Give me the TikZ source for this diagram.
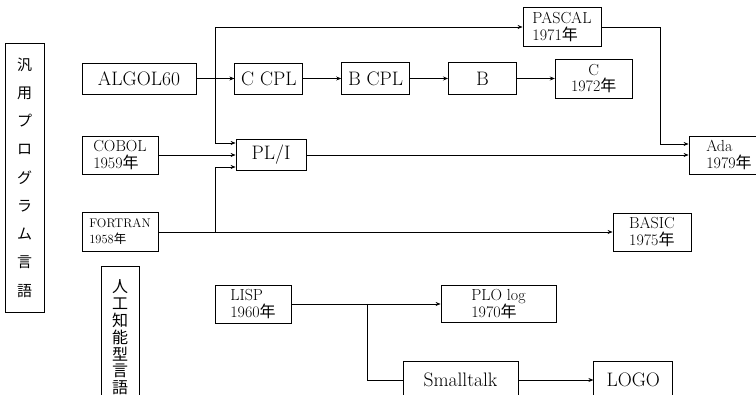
\documentclass[tikz,border=0pt]{standalone}
\usepackage{fontspec}
\newfontfamily\jp{Noto Sans CJK JP}
\usetikzlibrary{arrows.meta, positioning}
\newcommand{\nen}{{\jp 年}}

\begin{document}
\begin{tikzpicture}[
    x=1pt, y=-1pt,
    node distance=38pt,
    lang/.style={draw, line width=0.8pt, inner sep=0pt, align=left, font=\fontsize{16}{16.5}\selectfont},
    biglang/.style={lang, align=center, font=\fontsize{19.5}{20}\selectfont},
    tate/.style={draw, line width=0.8pt, inner sep=0pt, align=center},
    arrow/.style={-{Stealth[length=5pt, width=4pt]}, line width=0.7pt},
    link/.style={line width=0.7pt}
]
\useasboundingbox (0,0) rectangle (756,395);
\clip (0,0) rectangle (756,395);

\node[tate, minimum width=39pt, minimum height=269pt, font=\jp\fontsize{15}{28.25}\selectfont] (general) at (24.5,177.5) {汎\\用\\プ\\ロ\\グ\\ラ\\ム\\言\\語};
\node[tate, minimum width=38pt, minimum height=143pt, font=\jp\fontsize{16}{16.8}\selectfont] (ai) at (120,337.5) {人\\工\\知\\能\\型\\言\\語};

\node[biglang, minimum width=114pt, minimum height=31pt] (algol) at (139,78.5) {ALGOL60};
\node[biglang, minimum width=68pt, minimum height=31pt, right=of algol] (ccpl) {C CPL};
\node[biglang, minimum width=68pt, minimum height=32pt, right=of ccpl] (bcpl) {B CPL};
\node[biglang, minimum width=68pt, minimum height=32pt, right=of bcpl] (b) {B};
\node[lang, align=center, minimum width=77pt, minimum height=39pt, right=of b] (c) {C\\1972\nen};
\node[lang, minimum width=78pt, minimum height=39pt] (pascal) at (562,27) {PASCAL\\1971\nen};
\node[lang, minimum width=76pt, minimum height=38pt] (cobol) at (120,155) {COBOL\\1959\nen};
\node[biglang, minimum width=70pt, minimum height=31pt] (pli) at (271,155) {PL/I};
\node[lang, minimum width=80pt, minimum height=38pt] (ada) at (729,155) {Ada\\1979\nen};
\node[lang, minimum width=76pt, minimum height=39pt, font=\fontsize{12.5}{16}\selectfont] (fortran) at (120,232) {FORTRAN\\1958\nen};
\node[lang, minimum width=78pt, minimum height=38pt] (basic) at (652,232) {BASIC\\1975\nen};
\node[lang, minimum width=76pt, minimum height=38pt] (lisp) at (253,304) {LISP\\1960\nen};
\node[lang, minimum width=115pt, minimum height=37pt] (plolog) at (498.5,304) {PLO log\\1970\nen};
\node[biglang, minimum width=115pt, minimum height=38pt] (smalltalk) at (460.5,380) {Smalltalk};
\node[biglang, minimum width=79pt, minimum height=38pt, right=75pt of smalltalk] (logo) {LOGO};

\coordinate (algolfork) at (215,78.5);
\coordinate (fortranfork) at (215,232);
\coordinate (lispfork) at (367,304);

\draw[arrow] (algol) -- (ccpl);
\draw[arrow] (ccpl) -- (bcpl);
\draw[arrow] (bcpl) -- (b);
\draw[arrow] (b) -- (c);
\draw[arrow] (algolfork) |- (pascal.west);
\draw[arrow] (algolfork) |- ([yshift=12pt]pli.west);
\draw[arrow] (cobol) -- (pli);
\draw[arrow] (fortran) -- (basic);
\draw[arrow] (fortranfork) |- ([yshift=-12pt]pli.west);
\draw[arrow] (pli) -- (ada);
\draw[arrow] (pascal.east) -- ++(59,0) |- ([yshift=11pt]ada.west);
\draw[arrow] (lisp) -- (plolog);
\draw[link] (lispfork) |- (smalltalk.west);
\draw[arrow] (smalltalk) -- (logo);

\end{tikzpicture}
\end{document}
